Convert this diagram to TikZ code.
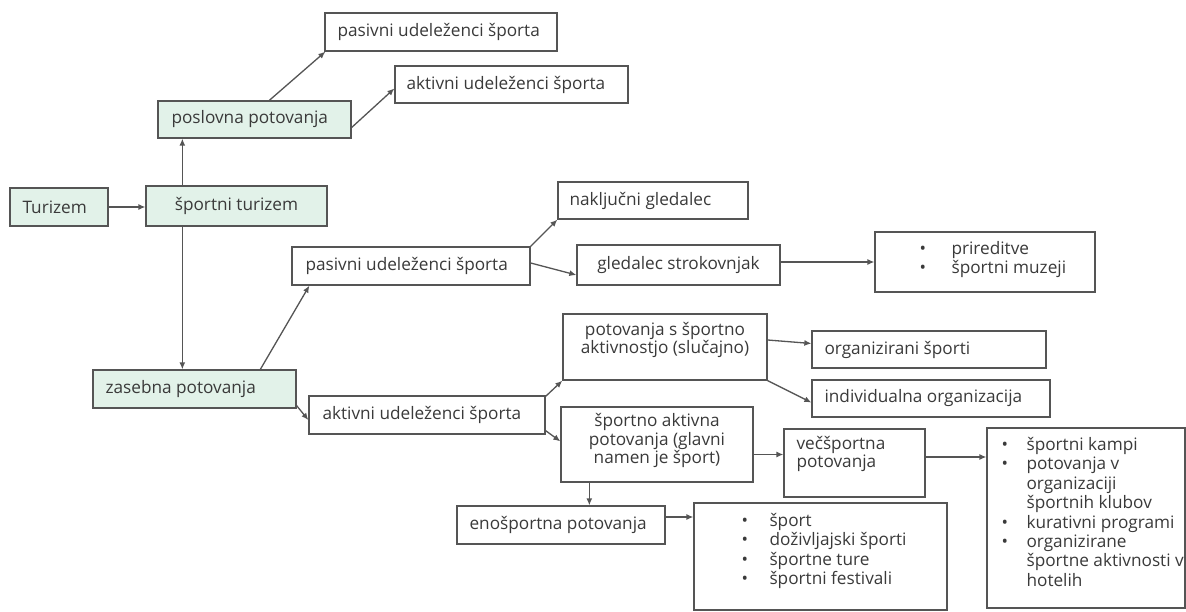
\documentclass[tikz,border=0pt]{standalone}
\usepackage{fontspec}
\setmainfont{Open Sans}
\usetikzlibrary{fit,arrows.meta}
\definecolor{ln}{HTML}{555555}
\definecolor{tx}{HTML}{3A3A3A}
\definecolor{gr}{RGB}{226,242,233}
\newcommand\fsz{\fontsize{17.2}{18.5}\selectfont}
\renewcommand{\arraystretch}{1.05}
\tikzset{
 bx/.style={draw=ln, line width=1.3pt, inner sep=0pt, rectangle},
 gbx/.style={bx, fill=gr},
 tl/.style={inner sep=0pt, anchor=west, text=tx, font=\fsz},
 tc/.style={inner sep=0pt, align=center, text=tx, font=\fsz},
 tlist/.style={inner sep=0pt, anchor=base west, text=tx, font=\fsz},
 arr/.style={draw=ln, line width=1.3pt, -{Latex[length=7pt,width=6pt]}},
}
\begin{document}
\begin{tikzpicture}[x=1pt,y=-1pt]
\useasboundingbox[fill=white] (0,0) rectangle (1186,612);
% boxes
\node[bx, fit={(325,13)(557,51)}] (pt) {};
\node[bx, fit={(395,66)(628,103)}] (at) {};
\node[gbx, fit={(158,101)(351,138)}] (pos) {};
\node[gbx, fit={(10,188)(108,226)}] (tur) {};
\node[gbx, fit={(146,186)(327,226)}] (st) {};
\node[bx, fit={(558,182)(748,219)}] (nk) {};
\node[bx, fit={(292,247)(530,285)}] (pm) {};
\node[bx, fit={(577,245)(780,285)}] (gs) {};
\node[bx, fit={(875,232)(1095,292)}] (pr) {};
\node[gbx, fit={(93,370)(296,408)}] (zp) {};
\node[bx, fit={(309,396)(545,434)}] (am) {};
\node[bx, fit={(563,314)(767,380)}] (ps) {};
\node[bx, fit={(812,331)(1046,368)}] (os) {};
\node[bx, fit={(812,380)(1050,417)}] (io) {};
\node[bx, fit={(561,407)(753,482)}] (sa) {};
\node[bx, fit={(784,429)(925,497)}] (ve) {};
\node[bx, fit={(457,506)(665,544)}] (eno) {};
\node[bx, fit={(694,503)(947,610)}] (sl) {};
\node[bx, fit={(987,428)(1185,608)}] (rl) {};
% texts
\node[tl] (t-pt) at ([xshift=13pt]pt.west) {pasivni udeleženci športa};
\node[tl] (t-at) at ([xshift=12pt]at.west) {aktivni udeleženci športa};
\node[tl] (t-pos) at ([xshift=14pt]pos.west) {poslovna potovanja};
\node[tl] (t-tur) at ([xshift=13pt]tur.west) {Turizem};
\node[tc] (t-st) at (st.center) {športni turizem};
\node[tl] (t-nk) at ([xshift=12pt]nk.west) {naključni gledalec};
\node[tl] (t-pm) at ([xshift=14pt]pm.west) {pasivni udeleženci športa};
\node[tc] (t-gs) at (gs.center) {gledalec strokovnjak};
\node[tl] (t-zp) at ([xshift=13pt]zp.west) {zasebna potovanja};
\node[tl] (t-am) at ([xshift=14pt]am.west) {aktivni udeleženci športa};
\node[tc] (t-ps) at ([yshift=7pt]ps.center) {potovanja s športno\\aktivnostjo (slučajno)};
\node[tl] (t-os) at ([xshift=13pt]os.west) {organizirani športi};
\node[tl] (t-io) at ([xshift=13pt]io.west) {individualna organizacija};
\node[tc] (t-sa) at ([yshift=4pt]sa.center) {športno aktivna\\potovanja (glavni\\namen je šport)};
\node[tl, align=left] (t-ve) at ([xshift=13pt,yshift=9pt]ve.west) {večšportna\\potovanja};
\node[tl] (t-eno) at ([xshift=13pt]eno.west) {enošportna potovanja};
\node[tlist] (t-pr) at ([xshift=45pt,yshift=-23pt]pr.north west) {\begin{tabular}[t]{@{}p{32pt}@{}l@{}}
\textbullet & prireditve\\
\textbullet & športni muzeji
\end{tabular}};
\node[tlist] (t-sl) at ([xshift=48pt,yshift=-24pt]sl.north west) {\begin{tabular}[t]{@{}p{28pt}@{}l@{}}
\textbullet & šport\\
\textbullet & doživljajski športi\\
\textbullet & športne ture\\
\textbullet & športni festivali
\end{tabular}};
\node[tlist] (t-rl) at ([xshift=15pt,yshift=-23pt]rl.north west) {\begin{tabular}[t]{@{}p{25pt}@{}l@{}}
\textbullet & športni kampi\\
\textbullet & potovanja v\\
 & organizaciji\\
 & športnih klubov\\
\textbullet & kurativni programi\\
\textbullet & organizirane\\
 & športne aktivnosti v\\
 & hotelih
\end{tabular}};
% arrows
\draw[arr] (tur.east) -- (tur.east -| st.west);
\draw[arr] ([xshift=37pt]st.north west) -- ([xshift=25pt]pos.south west);
\draw[arr] ([xshift=112pt]pos.north west) -- ([xshift=1pt]pt.south west);
\draw[arr] ([yshift=-8pt]pos.east) -- ([yshift=-4pt]at.west);
\draw[arr] ([xshift=37pt]st.south west) -- ([xshift=90pt]zp.north west);
\draw[arr] ([xshift=168pt]zp.north west) -- ([xshift=18pt]pm.south west);
\draw[arr] ([yshift=3pt]zp.south east) -- ([yshift=-5pt]am.west);
\draw[arr] (pm.north east) -- (nk.south west);
\draw[arr] ([yshift=3pt]pm.east) -- ([yshift=-10pt]gs.west);
\draw[arr] ([yshift=3pt]gs.east) -- ([yshift=3pt]gs.east -| pr.west);
\draw[arr] ([yshift=-1pt]am.north east) -- (ps.south west);
\draw[arr] ([yshift=4pt]am.south east) -- ([yshift=-35pt]sa.north west);
\draw[arr] ([yshift=7pt]ps.east) -- ([yshift=6pt]os.west);
\draw[arr] (ps.south east) -- ([yshift=-4pt]io.west);
\draw[arr] ([yshift=-10pt]sa.east) -- ([yshift=-10pt]sa.east -| ve.west);
\draw[arr] ([yshift=6pt]ve.east) -- ([yshift=6pt]ve.east -| rl.west);
\draw[arr] ([xshift=29pt]sa.south west) -- ([xshift=29pt]sa.south west |- eno.north);
\draw[arr] ([yshift=8pt]eno.east) -- ([yshift=8pt]eno.east -| sl.west);
\end{tikzpicture}
\end{document}
